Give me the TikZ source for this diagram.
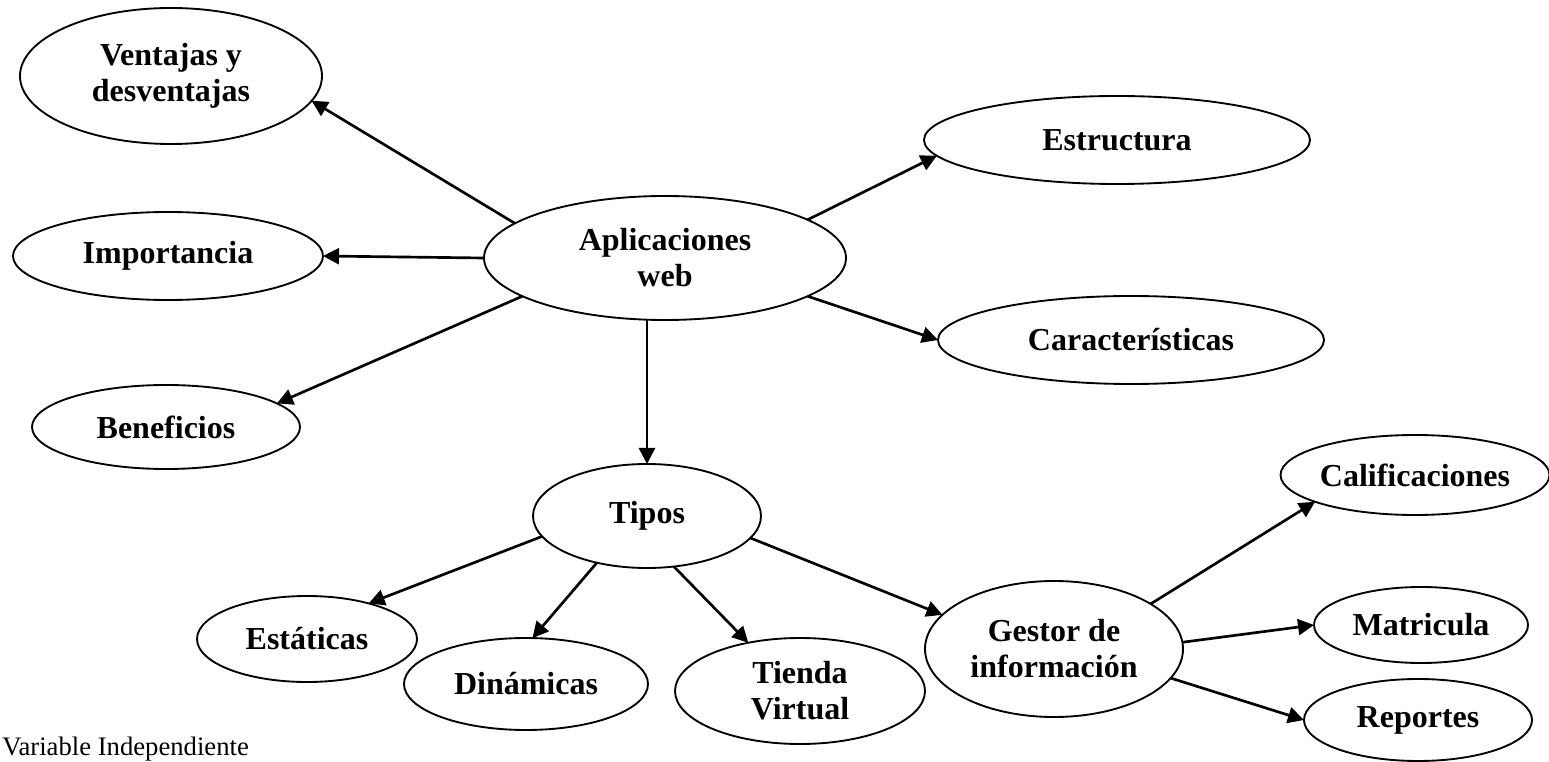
\documentclass[tikz,border=0pt]{standalone}
\usepackage{fontspec}
\setmainfont{Liberation Serif}
\usetikzlibrary{shapes.geometric,arrows.meta}
\begin{document}
\begin{tikzpicture}[x=0.75pt,y=-0.75pt,
  oval/.style={draw, ellipse, line width=1.4pt, inner sep=0pt, outer sep=0pt, align=center,
    font=\fontsize{24}{27}\selectfont\bfseries},
  sz/.style 2 args={minimum width=#1*0.75pt, minimum height=#2*0.75pt},
  arr/.style={line width=2pt, -{Triangle[length=12pt,width=12pt]}}]
\useasboundingbox (0,0) rectangle (1549,762);
% nodes
\node[oval, sz={302}{136}] (ven) at (171,76) {Ventajas y\\desventajas};
\node[oval, sz={310}{88}] (imp) at (168,256) {Importancia};
\node[oval, sz={268}{84}] (ben) at (166,427) {Beneficios};
\node[oval, sz={362}{124}] (apl) at (665,258) {Aplicaciones\\web};
\node[oval, sz={386}{88}] (est) at (1117,140) {Estructura};
\node[oval, sz={386}{88}] (car) at (1131,340) {Características};
\node[oval, sz={228}{104}] (tip) at (647,516) {Tipos};
\node[oval, sz={220}{86}] (sta) at (307,639) {Estáticas};
\node[oval, sz={244}{92}] (din) at (526,684) {Dinámicas};
\node[oval, sz={250}{106}] (tie) at (800,691) {Tienda\\Virtual};
\node[oval, sz={258}{136}] (ges) at (1054,649) {Gestor de\\información};
\node[oval, sz={266}{80}] (cal) at (1415,475) {Calificaciones};
\node[oval, sz={214}{76}] (mat) at (1421,625) {Matricula};
\node[oval, sz={228}{82}] (rep) at (1418,720) {Reportes};
\node[anchor=base west, inner sep=0pt, font=\fontsize{20}{24}\selectfont] (var) at (2,755) {Variable Independiente};
% connectors
\draw[arr] (apl.167) -- (ven.350);
\draw[arr] (apl.west) -- (imp.east);
\draw[arr] (apl.195) -- (ben.12);
\draw[arr] (apl.15) -- (est.185);
\draw[arr] (apl.345) -- (car.180);
\draw[arr] (tip.north |- apl.south) -- (tip.north);
\draw[arr] (tip.191) -- (sta.30);
\draw[arr] (tip.223) -- (din.82);
\draw[arr] (tip.298) -- (tie.137);
\draw[arr] (tip.348) -- (ges.163);
\draw[arr] (ges.25) -- (cal.195);
\draw[arr] (ges.3) -- (mat.180);
\draw[arr] (ges.346) -- (rep.180);
\end{tikzpicture}
\end{document}
